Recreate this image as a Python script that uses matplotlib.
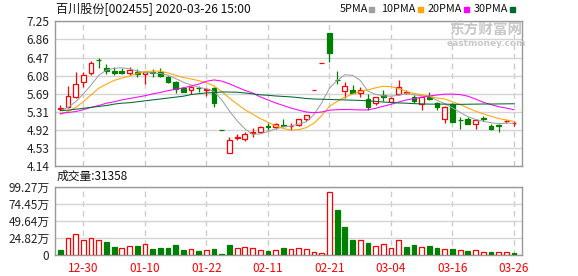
import matplotlib.pyplot as plt
from matplotlib.patches import Rectangle

plt.rcParams['font.family'] = ['Noto Sans CJK SC', 'DejaVu Sans']

# 日K数据 (2019-12-25 ... 2020-03-26)
opens = [5.37, 5.40, 5.62, 5.94, 6.14, 6.42, 6.24, 6.19, 6.19, 6.14,
         6.17, 6.11, 6.15, 6.17, 6.05, 5.95, 5.82, 5.77, 5.82, 5.78,
         5.81, 4.91, 4.43, 4.75, 4.72, 4.84, 4.88, 4.99, 4.97, 5.02,
         4.99, 5.02, 5.14, 5.77, 6.35, 6.99, 5.99, 5.75, 5.77, 5.70,
         5.58, 5.49, 5.67, 5.52, 5.69, 5.71, 5.63, 5.47, 5.62, 5.49,
         5.15, 5.47, 5.13, 5.16, 5.04, 5.17, 5.00, 5.02, 5.10, 5.06]
highs = [5.46, 5.86, 6.16, 6.15, 6.39, 6.47, 6.33, 6.26, 6.24, 6.26,
         6.22, 6.16, 6.22, 6.25, 6.07, 5.97, 5.84, 5.86, 5.87, 5.81,
         5.84, 4.91, 4.77, 4.83, 4.88, 4.95, 5.00, 5.06, 5.06, 5.16,
         5.07, 5.14, 5.24, 5.77, 6.35, 6.99, 6.18, 5.95, 5.88, 5.84,
         5.69, 5.63, 5.77, 5.62, 5.99, 5.77, 5.67, 5.63, 5.74, 5.52,
         5.43, 5.49, 5.19, 5.19, 5.14, 5.21, 5.04, 5.04, 5.13, 5.11]
lows = [5.35, 5.38, 5.60, 5.84, 6.10, 6.25, 6.12, 6.10, 6.11, 6.10,
        6.06, 5.90, 6.05, 6.06, 5.92, 5.71, 5.72, 5.69, 5.74, 5.64,
        5.40, 4.91, 4.43, 4.70, 4.68, 4.76, 4.85, 4.91, 4.93, 5.00,
        4.91, 5.00, 5.11, 5.77, 6.35, 6.38, 5.90, 5.61, 5.70, 5.62,
        5.34, 5.45, 5.54, 5.52, 5.67, 5.69, 5.49, 5.34, 5.56, 5.34,
        5.07, 5.09, 4.93, 5.04, 4.93, 5.11, 4.91, 4.88, 5.07, 5.01]
closes = [5.39, 5.64, 5.90, 6.10, 6.35, 6.41, 6.19, 6.14, 6.14, 6.20,
          6.12, 6.15, 6.14, 6.07, 5.94, 5.79, 5.74, 5.84, 5.81, 5.79,
          5.49, 4.91, 4.70, 4.76, 4.83, 4.87, 4.98, 4.98, 5.04, 5.01,
          5.00, 5.14, 5.24, 5.77, 6.35, 6.56, 5.98, 5.86, 5.70, 5.77,
          5.41, 5.62, 5.62, 5.61, 5.83, 5.72, 5.54, 5.62, 5.58, 5.40,
          5.40, 5.09, 5.12, 5.04, 5.13, 5.16, 4.93, 5.01, 5.11, 5.07]

# 成交量 (万手), 1 = 收涨(红), 0 = 收跌(绿)
volumes = [7.3, 24.2, 30.0, 21.8, 24.2, 21.8, 18.9, 11.6, 9.7, 13.0,
           13.0, 16.0, 8.7, 10.2, 10.2, 14.5, 7.3, 8.7, 5.8, 7.3,
           8.7, 1.5, 14.5, 9.7, 12.0, 9.7, 7.3, 5.8, 7.3, 9.7,
           8.3, 9.7, 8.3, 3.9, 2.9, 92.0, 65.3, 40.2, 21.8, 21.8,
           17.9, 13.0, 16.0, 9.7, 21.8, 11.6, 14.5, 11.6, 13.0, 10.2,
           8.7, 8.7, 7.3, 5.8, 7.3, 4.4, 4.4, 4.4, 4.4, 3.14]
vol_up = [0, 1, 1, 1, 1, 1, 0, 0, 1, 1,
          0, 1, 0, 0, 0, 0, 0, 1, 0, 1,
          0, 0, 0, 1, 1, 1, 1, 0, 1, 0,
          1, 1, 1, 1, 1, 1, 0, 0, 0, 1,
          0, 1, 1, 1, 1, 0, 0, 1, 0, 0,
          1, 0, 1, 0, 1, 1, 0, 1, 1, 0]

ma5 = [5.33, 5.40, 5.52, 5.69, 5.88, 6.09, 6.20, 6.24, 6.25, 6.23,
       6.18, 6.15, 6.14, 6.13, 6.09, 6.02, 5.94, 5.88, 5.83, 5.80,
       5.74, 5.56, 5.32, 5.11, 4.94, 4.82, 4.83, 4.88, 4.94, 4.98,
       5.00, 5.04, 5.09, 5.25, 5.50, 5.81, 5.98, 6.10, 6.09, 5.98,
       5.75, 5.68, 5.65, 5.64, 5.66, 5.70, 5.67, 5.65, 5.64, 5.55,
       5.48, 5.39, 5.29, 5.20, 5.14, 5.10, 5.07, 5.05, 5.06, 5.06]
ma10 = [5.25, 5.31, 5.40, 5.52, 5.67, 5.81, 5.90, 5.98, 6.03, 6.07,
        6.13, 6.17, 6.18, 6.18, 6.14, 6.09, 6.04, 6.01, 5.975, 5.93,
        5.86, 5.74, 5.60, 5.47, 5.35, 5.255, 5.16, 5.08, 5.005, 4.945,
        4.91, 4.92, 4.965, 5.06, 5.225, 5.42, 5.53, 5.62, 5.685, 5.745,
        5.775, 5.82, 5.855, 5.845, 5.805, 5.74, 5.70, 5.67, 5.64, 5.60,
        5.58, 5.52, 5.46, 5.39, 5.32, 5.26, 5.21, 5.16, 5.13, 5.10]
ma20 = [5.27, 5.29, 5.31, 5.35, 5.40, 5.44, 5.49, 5.52, 5.56, 5.59,
        5.62, 5.65, 5.69, 5.72, 5.76, 5.79, 5.82, 5.86, 5.90, 5.96,
        5.99, 5.965, 5.905, 5.835, 5.765, 5.71, 5.625, 5.56, 5.495, 5.44,
        5.385, 5.34, 5.30, 5.285, 5.30, 5.34, 5.35, 5.355, 5.35, 5.345,
        5.345, 5.38, 5.425, 5.465, 5.515, 5.56, 5.59, 5.62, 5.645, 5.665,
        5.685, 5.685, 5.675, 5.64, 5.58, 5.51, 5.46, 5.415, 5.385, 5.35]
ma30 = [5.33, 5.34, 5.36, 5.38, 5.40, 5.42, 5.44, 5.47, 5.49, 5.50,
        5.52, 5.54, 5.56, 5.58, 5.60, 5.62, 5.64, 5.675, 5.695, 5.71,
        5.72, 5.73, 5.73, 5.725, 5.71, 5.69, 5.67, 5.66, 5.645, 5.635,
        5.625, 5.61, 5.59, 5.58, 5.575, 5.57, 5.565, 5.56, 5.555, 5.55,
        5.54, 5.53, 5.515, 5.505, 5.495, 5.49, 5.48, 5.475, 5.47, 5.47,
        5.47, 5.465, 5.465, 5.468, 5.47, 5.472, 5.472, 5.474, 5.476, 5.478]

price_ticks = [4.14, 4.53, 4.92, 5.31, 5.69, 6.08, 6.47, 6.86, 7.25]
vol_ticks = [0, 24.82, 49.64, 74.45, 99.27]
vol_labels = ['0', '24.82万', '49.64万', '74.45万', '99.27万']
date_idx = [3, 11, 19, 27, 35, 43, 51, 59]
date_labels = ['12-30', '01-10', '01-22', '02-11', '02-21', '03-04', '03-16', '03-26']

RED = '#ff0000'
GREEN = '#008000'
W = 0.62
n = len(closes)

fig = plt.figure(figsize=(5.78, 2.76), dpi=100)
ax = fig.add_axes([55 / 578, 1 - 166 / 276, 467 / 578, 144.7 / 276])
axv = fig.add_axes([55 / 578, 21 / 276, 467 / 578, 68.5 / 276])

# K线
for i in range(n):
    o, h, l, c = opens[i], highs[i], lows[i], closes[i]
    prev = closes[i - 1] if i > 0 else o
    up = c > o or (c == o and c >= prev)
    lo_b, hi_b = min(o, c), max(o, c)
    if up:
        ax.vlines(i, hi_b, h, color=RED, lw=0.9, zorder=3)
        ax.vlines(i, l, lo_b, color=RED, lw=0.9, zorder=3)
        ax.add_patch(Rectangle((i - W / 2, lo_b), W, hi_b - lo_b, facecolor='white',
                               edgecolor=RED, lw=0.9, zorder=4))
    else:
        ax.vlines(i, l, h, color=GREEN, lw=0.9, zorder=3)
        ax.add_patch(Rectangle((i - W / 2, lo_b), W, hi_b - lo_b, facecolor=GREEN,
                               edgecolor=GREEN, lw=0.9, zorder=4))

x = list(range(n))
ax.plot(x, ma5, color='#a0a0a0', lw=0.75, zorder=5)
ax.plot(x, ma10, color='#ffa500', lw=0.75, zorder=5)
ax.plot(x, ma20, color='#ff00ff', lw=0.75, zorder=5)
ax.plot(x, ma30, color='#006a2e', lw=0.75, zorder=5)

# 成交量
for i in range(n):
    if vol_up[i]:
        axv.bar(i, volumes[i], width=W, facecolor='white', edgecolor=RED, lw=0.9, zorder=3)
    else:
        axv.bar(i, volumes[i], width=W, facecolor=GREEN, edgecolor=GREEN, lw=0.9, zorder=3)

for a in (ax, axv):
    a.set_xlim(-0.69, 60.04)
    for d in date_idx:
        a.axvline(d, color='#cccccc', lw=1, ls=(0, (4, 3)), zorder=1)
    for s in a.spines.values():
        s.set_color('#999999')
        s.set_linewidth(1)
    a.tick_params(length=0, labelsize=8.5, colors='#222222', pad=4)

ax.set_ylim(4.14, 7.25)
ax.set_yticks(price_ticks)
ax.set_yticklabels(['%.2f' % t for t in price_ticks])
ax.set_xticks([])
ax.grid(axis='y', color='#d4d4d4', lw=1, zorder=0)

axv.set_ylim(0, 99.27)
axv.set_yticks(vol_ticks)
axv.set_yticklabels(vol_labels)
axv.set_xticks(date_idx)
axv.set_xticklabels(date_labels, color=RED)
axv.tick_params(axis='x', pad=5)
axv.grid(axis='y', color='#d4d4d4', lw=1, zorder=0)

# 标题 / 图例
fig.text(56 / 578, 1 - 9.5 / 276, '百川股份[002455] 2020-03-26 15:00', fontsize=8.7,
         va='center', ha='left', color='#111111')
legend = [('5PMA', '#a0a0a0', 340, 369), ('10PMA', '#ffa500', 381, 418),
          ('20PMA', '#ff00ff', 428, 464), ('30PMA', '#006a2e', 474, 510)]
for name, col, tx, sx in legend:
    fig.text(tx / 578, 1 - 9.5 / 276, name, fontsize=7.8, va='center', ha='left', color='#111111')
    fig.add_artist(Rectangle((sx / 578, 1 - 12 / 276), 5 / 578, 5 / 276,
                             transform=fig.transFigure, color=col))

fig.text(57 / 578, 1 - 176 / 276, '成交量:31358', fontsize=8.5, va='center', ha='left',
         color='#111111')

# 水印
fig.text(486 / 578, 1 - 30 / 276, '东方财富网', fontsize=10.5, fontweight='bold',
         color='#c8c8c8', va='center', ha='center')
fig.text(486 / 578, 1 - 43 / 276, 'eastmoney.com', fontsize=6.5, fontweight='bold',
         color='#c8c8c8', va='center', ha='center', family='DejaVu Sans')

fig.savefig('out.png', dpi=100)
